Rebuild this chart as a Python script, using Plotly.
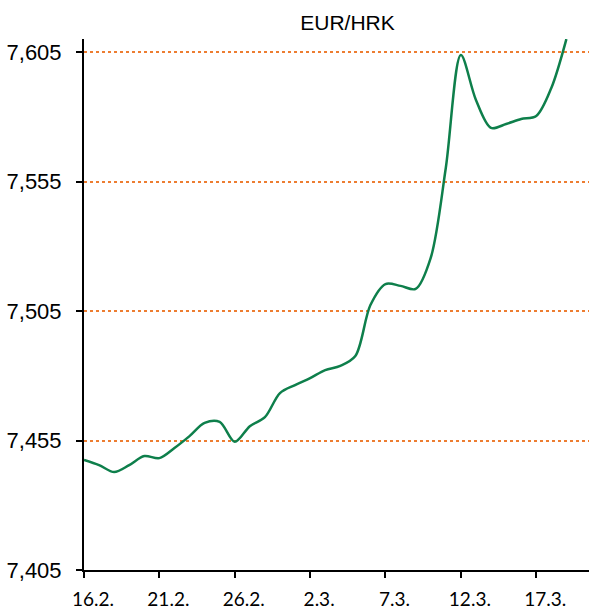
import plotly.graph_objects as go

dates = [
    "2020-02-16", "2020-02-17", "2020-02-18", "2020-02-19", "2020-02-20",
    "2020-02-21", "2020-02-22", "2020-02-23", "2020-02-24", "2020-02-25",
    "2020-02-26", "2020-02-27", "2020-02-28", "2020-02-29", "2020-03-01",
    "2020-03-02", "2020-03-03", "2020-03-04", "2020-03-05", "2020-03-06",
    "2020-03-07", "2020-03-08", "2020-03-09", "2020-03-10", "2020-03-11",
    "2020-03-12", "2020-03-13", "2020-03-14", "2020-03-15", "2020-03-16",
    "2020-03-17", "2020-03-18", "2020-03-19",
]
eur_hrk = [
    7.4475, 7.4455, 7.4428, 7.4455, 7.4490,
    7.4482, 7.4521, 7.4567, 7.4618, 7.4622,
    7.4545, 7.4605, 7.4640, 7.4733, 7.4764,
    7.4791, 7.4822, 7.4838, 7.4876, 7.5073,
    7.5154, 7.5147, 7.5135, 7.5255, 7.5602,
    7.6038, 7.5865, 7.5757, 7.5772, 7.5791,
    7.5803, 7.5911, 7.6100,
]
x_tick_dates = ["2020-02-16", "2020-02-21", "2020-02-26", "2020-03-02",
                "2020-03-07", "2020-03-12", "2020-03-17"]
x_tick_labels = ["16.2.", "21.2.", "26.2.", "2.3.", "7.3.", "12.3.", "17.3."]
y_ticks = [7.405, 7.455, 7.505, 7.555, 7.605]
y_tick_labels = ["7,405", "7,455", "7,505", "7,555", "7,605"]

fig = go.Figure()
fig.add_trace(go.Scatter(
    x=dates, y=eur_hrk, mode="lines",
    line=dict(color="#0E7F4B", width=2.5, shape="spline", smoothing=0.9),
    hoverinfo="skip", showlegend=False,
))

fig.update_layout(
    template="none",
    width=589, height=610,
    margin=dict(l=84, r=0, t=39, b=40, autoexpand=False),
    paper_bgcolor="white", plot_bgcolor="white",
    title=dict(text="EUR/HRK", x=347.5 / 589, xanchor="center",
               y=1 - 23 / 610, yanchor="middle",
               font=dict(family="Liberation Sans, Arial", size=21, color="#000")),
    xaxis=dict(
        type="date", range=["2020-02-16", "2020-03-20 12:00"],
        tickvals=x_tick_dates, ticktext=x_tick_labels,
        ticks="outside", ticklen=6, tickwidth=2, tickcolor="#000",
        showline=True, linecolor="#000", linewidth=2,
        showgrid=False, zeroline=False, automargin=False,
        tickfont=dict(family="Lato, Open Sans", size=19, color="#000"),
        ticklabelshift=9, ticklabelstandoff=5,
    ),
    yaxis=dict(
        range=[7.405, 7.405 + 531 / 2590],
        tickvals=y_ticks, ticktext=y_tick_labels,
        ticks="outside", ticklen=6, tickwidth=2, tickcolor="#000",
        showline=True, linecolor="#000", linewidth=2,
        showgrid=True, gridcolor="#ED7D31", gridwidth=2, griddash="dot",
        zeroline=False, automargin=False,
        tickfont=dict(family="Liberation Sans, Arial", size=22, color="#000"),
        ticklabelstandoff=10,
    ),
)

fig.write_html("out.html", config={"displayModeBar": False},
               post_script="document.body.style.margin='0';")
